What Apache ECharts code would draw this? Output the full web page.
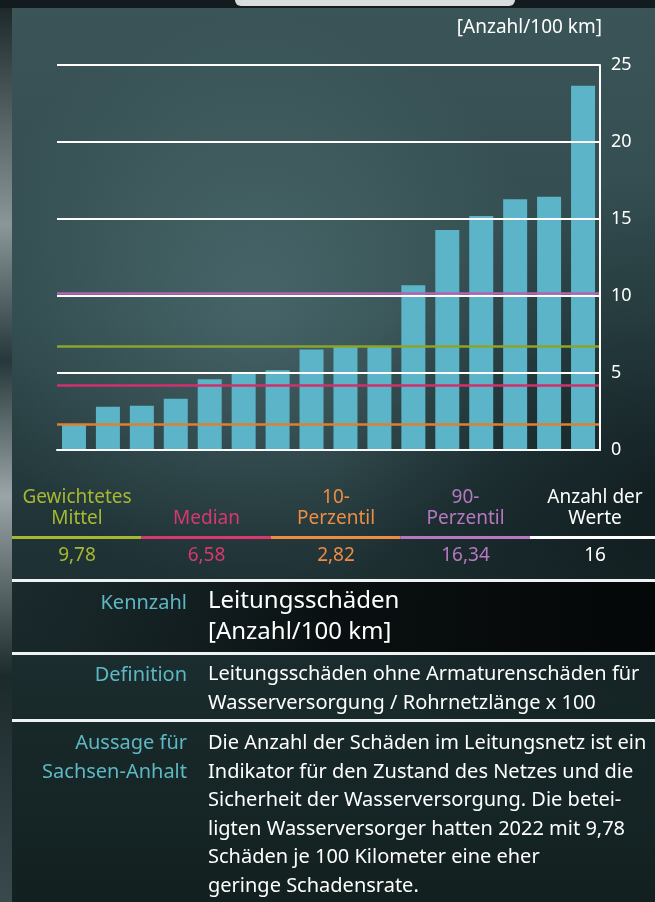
<!DOCTYPE html>
<html lang="de">
<head>
    <meta charset="UTF-8">
    <title>Leitungsschäden</title>
</head>
<style>
    html, body{
        margin: 0;
        padding: 0;
        background-color: #0e1618;
    }
    .main{
        width: 655px;
        height: 902px;
    }
</style>
<body>
<div id="main" class="main"></div>
<script src="https://cdn.jsdelivr.net/npm/echarts@6/dist/echarts.min.js"></script>
<script>
    // Werte je Wasserversorger (sortiert), Anzahl/100 km
    var werte = [1.66, 2.81, 2.87, 3.33, 4.6, 4.97, 5.18, 6.52, 6.7, 6.72, 10.7, 14.29, 15.2, 16.28, 16.45, 23.66];
    var kategorien = werte.map(function (v, i) { return String(i + 1); });

    // farbige Linien im Diagramm
    var linienWerte = [10.2, 6.72, 4.2, 1.68];
    var linienFarben = ['#b064b4', '#8ea42a', '#d2306c', '#de8030'];

    // Kennwerte unter dem Diagramm
    var kennNamen = ['Gewichtetes\nMittel', 'Median', '10-\nPerzentil', '90-\nPerzentil', 'Anzahl der\nWerte'];
    var kennWerte = ['9,78', '6,58', '2,82', '16,34', '16'];
    var kennFarben = ['#a6b832', '#d8386e', '#ee8c44', '#b678c0', '#ffffff'];

    var yTicks = [0, 5, 10, 15, 20, 25];

    var fontFam = '"Noto Sans", sans-serif';
    var teal = '#5db8c4';

    var app = echarts.init(document.getElementById('main'));

    var graphic = [];
    // Hintergrund
    graphic.push({
        type: 'rect', z: -10, silent: true,
        shape: {x: 12, y: 8, width: 643, height: 894},
        style: {
            fill: new echarts.graphic.LinearGradient(0, 0, 0, 1, [
                {offset: 0, color: '#3a5457'},
                {offset: 0.35, color: '#304a4d'},
                {offset: 0.6, color: '#1f3235'},
                {offset: 1, color: '#12201f'}
            ])
        }
    });
    graphic.push({
        type: 'rect', z: -9, silent: true,
        shape: {x: 12, y: 8, width: 643, height: 894},
        style: {
            fill: new echarts.graphic.RadialGradient(0.38, 0.33, 0.45, [
                {offset: 0, color: 'rgba(120,160,165,0.30)'},
                {offset: 1, color: 'rgba(120,160,165,0)'}
            ])
        }
    });
    graphic.push({
        type: 'rect', z: -9, silent: true,
        shape: {x: 12, y: 8, width: 643, height: 894},
        style: {
            fill: new echarts.graphic.RadialGradient(1, 0.55, 0.5, [
                {offset: 0, color: 'rgba(5,12,14,0.55)'},
                {offset: 1, color: 'rgba(5,12,14,0)'}
            ])
        }
    });
    // linker Fotorand
    graphic.push({
        type: 'rect', z: -8, silent: true,
        shape: {x: 0, y: 0, width: 12, height: 902},
        style: {
            fill: new echarts.graphic.LinearGradient(0, 0, 0, 1, [
                {offset: 0, color: '#1a2527'},
                {offset: 0.25, color: '#8a9698'},
                {offset: 0.4, color: '#26383b'},
                {offset: 0.55, color: '#9aa5a7'},
                {offset: 0.75, color: '#1c2a2c'},
                {offset: 1, color: '#3a4a4c'}
            ])
        }
    });
    // oberer Rand
    graphic.push({
        type: 'rect', z: -8, silent: true,
        shape: {x: 0, y: 0, width: 655, height: 8},
        style: {fill: '#121b1d'}
    });
    graphic.push({
        type: 'rect', z: -7, silent: true,
        shape: {x: 235, y: 0, width: 280, height: 6, r: [0, 0, 6, 6]},
        style: {fill: '#d8dcdc'}
    });

    // Kennwerte-Zeile
    kennNamen.forEach(function (name, i) {
        var cx = 77 + i * 129.5;
        graphic.push({
            type: 'text', z: 10, silent: true,
            style: {
                x: cx, y: 529, text: name, fill: kennFarben[i],
                font: '19px ' + fontFam, align: 'center', verticalAlign: 'bottom', lineHeight: 21
            }
        });
        graphic.push({
            type: 'rect', z: 10, silent: true,
            shape: {x: 12 + i * 129.5, y: 536, width: i === 4 ? 126 : 129.5, height: 3},
            style: {fill: kennFarben[i]}
        });
        graphic.push({
            type: 'text', z: 10, silent: true,
            style: {
                x: cx, y: 556, text: kennWerte[i], fill: kennFarben[i],
                font: '19px ' + fontFam, align: 'center', verticalAlign: 'middle'
            }
        });
    });

    // Trennlinien + dunkles Band
    graphic.push({
        type: 'rect', z: -5, silent: true,
        shape: {x: 12, y: 582, width: 643, height: 70},
        style: {
            fill: new echarts.graphic.LinearGradient(0, 0, 1, 0, [
                {offset: 0, color: 'rgba(20,32,34,0.35)'},
                {offset: 0.5, color: 'rgba(6,10,11,0.85)'},
                {offset: 1, color: 'rgba(4,6,7,0.95)'}
            ])
        }
    });
    [579, 652, 719].forEach(function (y) {
        graphic.push({
            type: 'rect', z: 10, silent: true,
            shape: {x: 12, y: y, width: 643, height: 3},
            style: {fill: '#eef2f2'}
        });
    });

    // Textblock
    function label(text, y) {
        graphic.push({
            type: 'text', z: 10, silent: true,
            style: {
                x: 187, y: y, text: text, fill: teal,
                font: '20px ' + fontFam, align: 'right', verticalAlign: 'top', lineHeight: 28.6
            }
        });
    }
    function inhalt(text, y, size, lh) {
        graphic.push({
            type: 'text', z: 10, silent: true,
            style: {
                x: 208, y: y, text: text, fill: '#ffffff',
                font: size + 'px ' + fontFam, align: 'left', verticalAlign: 'top', lineHeight: lh
            }
        });
    }
    label('Kennzahl', 589);
    inhalt('Leitungsschäden\n[Anzahl/100 km]', 586, 24, 31);
    label('Definition', 661);
    inhalt('Leitungsschäden ohne Armaturenschäden für\nWasserversorgung / Rohrnetzlänge x 100', 660, 20, 29);
    label('Aussage für\nSachsen-Anhalt', 729);
    inhalt('Die Anzahl der Schäden im Leitungsnetz ist ein\nIndikator für den Zustand des Netzes und die\nSicherheit der Wasserversorgung. Die betei-\nligten Wasserversorger hatten 2022 mit 9,78\nSchäden je 100 Kilometer eine eher\ngeringe Schadensrate.', 729, 20, 28.6);

    option = {
        backgroundColor: '#0e1618',
        animation: false,
        textStyle: {fontFamily: fontFam},
        grid: {
            left: 57,
            right: 55,
            top: 65,
            bottom: 452
        },
        xAxis: {
            type: 'category',
            data: kategorien,
            axisLine: {show: true, lineStyle: {color: '#ffffff', width: 2}},
            axisTick: {show: false},
            axisLabel: {show: false},
            splitLine: {show: false}
        },
        yAxis: {
            type: 'value',
            position: 'right',
            min: yTicks[0],
            max: yTicks[yTicks.length - 1],
            interval: 5,
            z: 5,
            name: '[Anzahl/100 km]',
            nameLocation: 'end',
            nameGap: 28,
            nameTextStyle: {color: '#ffffff', fontSize: 19, align: 'right', padding: [0, -2, 0, 0]},
            axisLine: {show: true, lineStyle: {color: '#ffffff', width: 2}},
            axisTick: {show: false},
            axisLabel: {color: '#ffffff', fontSize: 18, margin: 11},
            splitLine: {show: true, lineStyle: {color: '#ffffff', width: 2}}
        },
        series: [
            {
                type: 'bar',
                data: werte,
                barWidth: 24,
                itemStyle: {color: '#5cb4c8'},
                markLine: {
                    silent: true,
                    symbol: 'none',
                    label: {show: false},
                    data: linienWerte.map(function (v, i) {
                        return {yAxis: v, lineStyle: {color: linienFarben[i], width: 2.5, type: 'solid'}};
                    })
                }
            }
        ],
        graphic: graphic
    };
    app.setOption(option);
</script>
</body>
</html>
